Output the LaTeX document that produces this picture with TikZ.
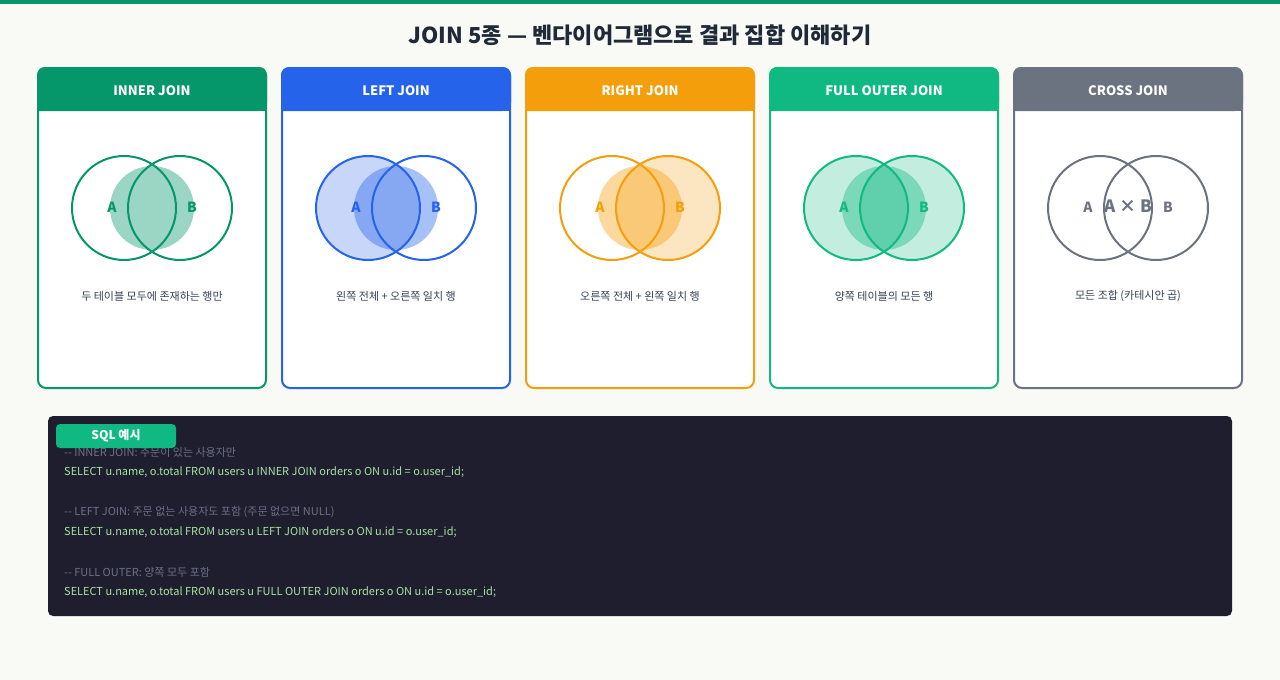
\documentclass[tikz,border=0pt]{standalone}
\usepackage{fontspec}
\setmainfont{Noto Sans CJK KR}
\definecolor{bg}{HTML}{F9FAF6}
\definecolor{cinner}{HTML}{059669}
\definecolor{cleft}{HTML}{2563EB}
\definecolor{cright}{HTML}{F59E0B}
\definecolor{cfull}{HTML}{10B981}
\definecolor{ccross}{HTML}{6B7280}
\definecolor{titlec}{HTML}{1F2937}
\definecolor{descc}{HTML}{374151}
\definecolor{codebg}{HTML}{1E1E2E}
\definecolor{codegreen}{HTML}{A6E3A1}
\definecolor{codegray}{HTML}{6C7086}
\tikzset{
  card/.style={draw=#1, line width=2pt, fill=white, rounded corners=8pt},
  hdrtext/.style={text=white, font=\bfseries\fontsize{13}{15}\selectfont, anchor=center},
  lbl/.style={text=#1, font=\bfseries\fontsize{14}{16}\selectfont, anchor=center},
  desc/.style={text=descc, font=\fontsize{11}{13}\selectfont, anchor=center},
  ring/.style={draw=#1, line width=2pt},
  comment/.style={text=codegray, font=\fontsize{11}{13}\selectfont, anchor=west, inner sep=0pt},
  code/.style={text=codegreen, font=\fontsize{11}{13}\selectfont, anchor=west, inner sep=0pt},
}
\newcommand{\joincard}[5]{%
  \draw[card=#2] (#1-114,68) rectangle (#1+114,388);
  \fill[#2, rounded corners=8pt] (#1-115,111) -- (#1-115,67) -- (#1+115,67) -- (#1+115,111) [sharp corners]-- cycle;
  \fill[#2] (#1-115,100) rectangle (#1+115,111);
  \node[hdrtext] (#5h) at (#1,91) {#3};
  \node[desc] (#5d) at (#1,296) {#4};
}
\newcommand{\dd}{{-}{-}}
\begin{document}
\begin{tikzpicture}[x=1pt,y=-1pt]
\useasboundingbox (0,0) rectangle (1280,680);
\fill[bg] (0,0) rectangle (1280,680);
\fill[cinner] (0,0) rectangle (1280,4);
\node[text=titlec, font=\bfseries\fontsize{22}{26}\selectfont, anchor=center] (title) at (640,35) {JOIN 5종 — 벤다이어그램으로 결과 집합 이해하기};

% INNER
\joincard{152}{cinner}{INNER JOIN}{두 테이블 모두에 존재하는 행만}{inner}
\fill[cinner, fill opacity=0.4] (152,208) circle (42);
\draw[ring=cinner] (124,208) circle (52);
\draw[ring=cinner] (180,208) circle (52);
\node[lbl=cinner] (innerA) at (112,207) {A};
\node[lbl=cinner] (innerB) at (192,207) {B};

% LEFT
\joincard{396}{cleft}{LEFT JOIN}{왼쪽 전체 + 오른쪽 일치 행}{left}
\fill[cleft, fill opacity=0.25] (368,208) circle (52);
\fill[cleft, fill opacity=0.4] (396,208) circle (42);
\draw[ring=cleft] (368,208) circle (52);
\draw[ring=cleft] (424,208) circle (52);
\node[lbl=cleft] (leftA) at (356,207) {A};
\node[lbl=cleft] (leftB) at (436,207) {B};

% RIGHT
\joincard{640}{cright}{RIGHT JOIN}{오른쪽 전체 + 왼쪽 일치 행}{right}
\fill[cright, fill opacity=0.25] (668,208) circle (52);
\fill[cright, fill opacity=0.4] (640,208) circle (42);
\draw[ring=cright] (612,208) circle (52);
\draw[ring=cright] (668,208) circle (52);
\node[lbl=cright] (rightA) at (600,207) {A};
\node[lbl=cright] (rightB) at (680,207) {B};

% FULL
\joincard{884}{cfull}{FULL OUTER JOIN}{양쪽 테이블의 모든 행}{full}
\fill[cfull, fill opacity=0.25] (856,208) circle (52);
\fill[cfull, fill opacity=0.25] (912,208) circle (52);
\fill[cfull, fill opacity=0.4] (884,208) circle (42);
\draw[ring=cfull] (856,208) circle (52);
\draw[ring=cfull] (912,208) circle (52);
\node[lbl=cfull] (fullA) at (844,207) {A};
\node[lbl=cfull] (fullB) at (924,207) {B};

% CROSS
\joincard{1128}{ccross}{CROSS JOIN}{모든 조합 (카테시안 곱)}{cross}
\draw[ring=ccross] (1100,208) circle (52);
\draw[ring=ccross] (1156,208) circle (52);
\node[text=ccross, font=\bfseries\fontsize{14}{16}\selectfont] (crossA) at (1088,207) {A};
\node[text=ccross, font=\bfseries\fontsize{17}{19}\selectfont] (crossAB) at (1128,206) {A × B};
\node[text=ccross, font=\bfseries\fontsize{14}{16}\selectfont] (crossB) at (1168,207) {B};

% code box
\fill[codebg, rounded corners=5pt] (48,416) rectangle (1232,616);
\node[comment] (c1) at (64,452) {\dd{} INNER JOIN: 주문이 있는 사용자만};
\node[code] (s1) at (64,472) {SELECT u.name, o.total FROM users u INNER JOIN orders o ON u.id = o.user\_id;};
\node[comment] (c2) at (64,512) {\dd{} LEFT JOIN: 주문 없는 사용자도 포함 (주문 없으면 NULL)};
\node[code] (s2) at (64,532) {SELECT u.name, o.total FROM users u LEFT JOIN orders o ON u.id = o.user\_id;};
\node[comment] (c3) at (64,572) {\dd{} FULL OUTER: 양쪽 모두 포함};
\node[code] (s3) at (64,592) {SELECT u.name, o.total FROM users u FULL OUTER JOIN orders o ON u.id = o.user\_id;};
\fill[cfull, rounded corners=4pt] (56,424) rectangle (176,448);
\node[text=white, font=\bfseries\fontsize{12}{14}\selectfont] (tab) at (116,436) {SQL 예시};
\end{tikzpicture}
\end{document}
